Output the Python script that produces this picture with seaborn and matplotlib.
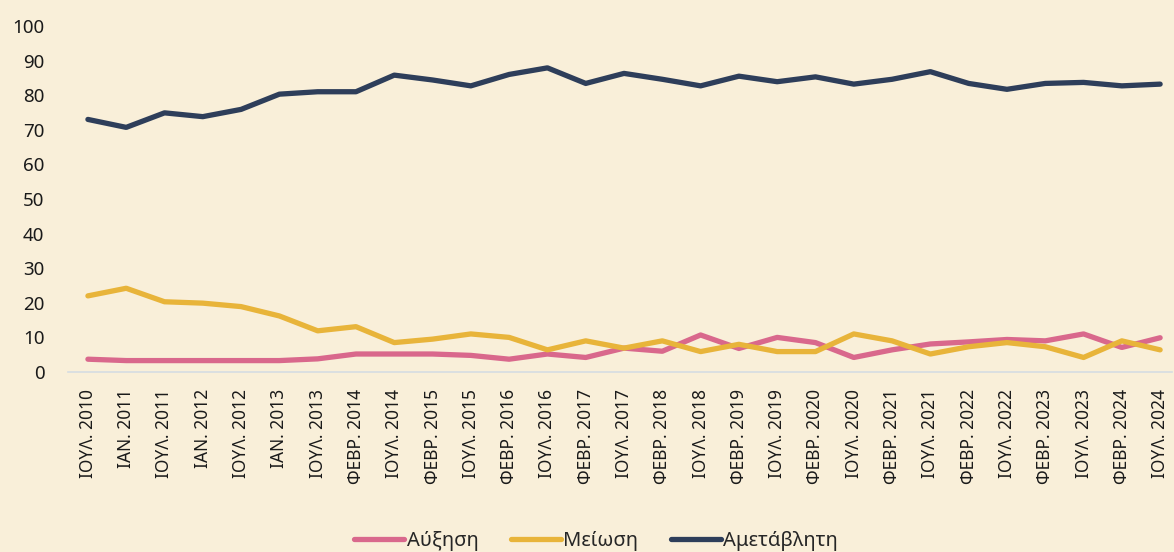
import matplotlib
matplotlib.use("Agg")
import matplotlib.pyplot as plt
import seaborn as sns
import pandas as pd

labels = ["ΙΟΥΛ. 2010", "ΙΑΝ. 2011", "ΙΟΥΛ. 2011", "ΙΑΝ. 2012", "ΙΟΥΛ. 2012",
          "ΙΑΝ. 2013", "ΙΟΥΛ. 2013", "ΦΕΒΡ. 2014", "ΙΟΥΛ. 2014", "ΦΕΒΡ. 2015",
          "ΙΟΥΛ. 2015", "ΦΕΒΡ. 2016", "ΙΟΥΛ. 2016", "ΦΕΒΡ. 2017", "ΙΟΥΛ. 2017",
          "ΦΕΒΡ. 2018", "ΙΟΥΛ. 2018", "ΦΕΒΡ. 2019", "ΙΟΥΛ. 2019", "ΦΕΒΡ. 2020",
          "ΙΟΥΛ. 2020", "ΦΕΒΡ. 2021", "ΙΟΥΛ. 2021", "ΦΕΒΡ. 2022", "ΙΟΥΛ. 2022",
          "ΦΕΒΡ. 2023", "ΙΟΥΛ. 2023", "ΦΕΒΡ. 2024", "ΙΟΥΛ. 2024"]

increase = [3.7, 3.3, 3.3, 3.3, 3.3, 3.3, 3.8, 5.2, 5.2, 5.2, 4.8, 3.7, 5.2, 4.2, 6.9,
            6.0, 10.7, 6.8, 10.0, 8.5, 4.2, 6.4, 8.1, 8.7, 9.4, 9.0, 11.0, 7.1, 9.9]
decrease = [22.0, 24.2, 20.3, 19.9, 18.9, 16.2, 11.9, 13.1, 8.5, 9.5, 11.0, 10.0, 6.4, 9.0, 6.9,
            9.0, 5.9, 8.0, 5.9, 5.9, 11.0, 9.0, 5.2, 7.3, 8.5, 7.3, 4.2, 9.0, 6.4]
unchanged = [73.0, 70.7, 74.9, 73.8, 75.9, 80.3, 81.0, 81.0, 85.8, 84.4, 82.7, 86.0, 87.9, 83.4, 86.3,
             84.6, 82.7, 85.5, 83.9, 85.3, 83.2, 84.6, 86.8, 83.4, 81.7, 83.4, 83.7, 82.7, 83.2]

series_names = ["Αύξηση", "Μείωση", "Αμετάβλητη"]
colors = ["#D9688C", "#E8B43A", "#2E3E5A"]

rows = []
for name, vals in zip(series_names, [increase, decrease, unchanged]):
    for i, v in enumerate(vals):
        rows.append({"x": i, "value": v, "series": name})
df = pd.DataFrame(rows)

bg = "#F9EFD9"
sns.set_theme(style="white")
plt.rcParams["font.family"] = ["Noto Sans", "DejaVu Sans"]

fig = plt.figure(figsize=(11.74, 5.52), dpi=100, facecolor=bg)
ax = fig.add_axes([68/1174, 1-372/552, (1172-68)/1174, (372-26)/552])
ax.set_facecolor(bg)

sns.lineplot(data=df, x="x", y="value", hue="series", hue_order=series_names,
             palette=colors, linewidth=3.8, ax=ax, legend=True,
             solid_capstyle="round")
for ln in ax.get_lines():
    ln.set_clip_on(False)

ax.set_xlim(-0.52, 28.31)
ax.set_ylim(0, 100)
ax.set_yticks(range(0, 101, 10))
ax.set_xticks(range(len(labels)))
ax.set_xticklabels(labels, rotation=90, fontsize=12.5, color="#1a1a1a")
ax.tick_params(axis="y", labelsize=13.5, labelcolor="#1a1a1a", length=0, pad=17)
ax.tick_params(axis="x", length=0, pad=12)
ax.set_xlabel("")
ax.set_ylabel("")
for s in ["top", "right", "left"]:
    ax.spines[s].set_visible(False)
ax.spines["bottom"].set_color("#D6DCE2")
ax.spines["bottom"].set_linewidth(1.2)

handles, lbls = ax.get_legend_handles_labels()
for h in handles:
    h.set_linewidth(3.8)
    h.set_solid_capstyle("round")
ax.legend(handles, lbls, loc="center", bbox_to_anchor=((596-68)/1104, (372-541)/346),
          ncol=3, frameon=False, fontsize=14.5, handlelength=2.5, handletextpad=0.12,
          columnspacing=1.6)

fig.savefig("out.png", dpi=100, facecolor=bg)
